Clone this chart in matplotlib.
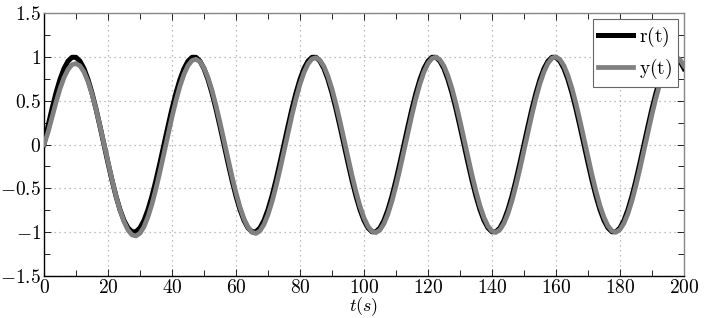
import numpy as np
import matplotlib
matplotlib.use("Agg")
import matplotlib.pyplot as plt
from matplotlib.ticker import MultipleLocator, FuncFormatter

plt.rcParams['mathtext.fontset'] = 'cm'
plt.rcParams['font.family'] = 'serif'
plt.rcParams['font.serif'] = ['DejaVu Serif']

# reference r(t), sampled every 1.25 s
r_vals = [
    0.000, 0.208, 0.407, 0.588, 0.743, 0.866, 0.951, 0.995, 0.995, 0.951,
    0.866, 0.743, 0.588, 0.407, 0.208, 0.000, -0.208, -0.407, -0.588, -0.743,
    -0.866, -0.951, -0.995, -0.995, -0.951, -0.866, -0.743, -0.588, -0.407, -0.208,
    0.000, 0.208, 0.407, 0.588, 0.743, 0.866, 0.951, 0.995, 0.995, 0.951,
    0.866, 0.743, 0.588, 0.407, 0.208, 0.000, -0.208, -0.407, -0.588, -0.743,
    -0.866, -0.951, -0.995, -0.995, -0.951, -0.866, -0.743, -0.588, -0.407, -0.208,
    0.000, 0.208, 0.407, 0.588, 0.743, 0.866, 0.951, 0.995, 0.995, 0.951,
    0.866, 0.743, 0.588, 0.407, 0.208, 0.000, -0.208, -0.407, -0.588, -0.743,
    -0.866, -0.951, -0.995, -0.995, -0.951, -0.866, -0.743, -0.588, -0.407, -0.208,
    0.000, 0.208, 0.407, 0.588, 0.743, 0.866, 0.951, 0.995, 0.995, 0.951,
    0.866, 0.743, 0.588, 0.407, 0.208, 0.000, -0.208, -0.407, -0.588, -0.743,
    -0.866, -0.951, -0.995, -0.995, -0.951, -0.866, -0.743, -0.588, -0.407, -0.208,
    0.000, 0.208, 0.407, 0.588, 0.743, 0.866, 0.951, 0.995, 0.995, 0.951,
    0.866, 0.743, 0.588, 0.407, 0.208, 0.000, -0.208, -0.407, -0.588, -0.743,
    -0.866, -0.951, -0.995, -0.995, -0.951, -0.866, -0.743, -0.588, -0.407, -0.208,
    0.000, 0.208, 0.407, 0.588, 0.743, 0.866, 0.951, 0.995, 0.995, 0.951,
    0.866,
]

# output y(t), same sampling
y_vals = [
    0.000, 0.137, 0.310, 0.480, 0.635, 0.762, 0.856, 0.911, 0.924, 0.898,
    0.828, 0.719, 0.576, 0.404, 0.212, 0.009, -0.198, -0.399, -0.585, -0.748,
    -0.879, -0.975, -1.031, -1.043, -1.012, -0.939, -0.825, -0.679, -0.504, -0.308,
    -0.101, 0.109, 0.313, 0.501, 0.667, 0.801, 0.900, 0.958, 0.973, 0.945,
    0.874, 0.763, 0.619, 0.445, 0.252, 0.047, -0.161, -0.364, -0.550, -0.714,
    -0.847, -0.944, -1.001, -1.014, -0.985, -0.912, -0.800, -0.654, -0.480, -0.285,
    -0.079, 0.131, 0.334, 0.521, 0.687, 0.820, 0.919, 0.976, 0.990, 0.961,
    0.890, 0.778, 0.633, 0.460, 0.266, 0.060, -0.149, -0.351, -0.538, -0.703,
    -0.836, -0.933, -0.990, -1.004, -0.975, -0.903, -0.790, -0.645, -0.471, -0.277,
    -0.071, 0.138, 0.341, 0.529, 0.694, 0.827, 0.925, 0.982, 0.996, 0.967,
    0.895, 0.783, 0.639, 0.465, 0.271, 0.065, -0.144, -0.347, -0.534, -0.699,
    -0.832, -0.930, -0.987, -1.001, -0.971, -0.899, -0.787, -0.642, -0.468, -0.274,
    -0.068, 0.142, 0.345, 0.532, 0.697, 0.830, 0.928, 0.985, 0.999, 0.970,
    0.898, 0.786, 0.641, 0.467, 0.273, 0.067, -0.142, -0.345, -0.532, -0.697,
    -0.830, -0.928, -0.985, -0.999, -0.970, -0.898, -0.786, -0.641, -0.467, -0.273,
    -0.067, 0.142, 0.345, 0.532, 0.697, 0.830, 0.928, 0.985, 0.999, 0.970,
    0.898,
]

t = np.linspace(0, 200, len(r_vals))

fig = plt.figure(figsize=(7.06, 3.18), dpi=100)
ax = fig.add_axes([0.0623, 0.132, 0.9065, 0.827])

ax.plot(t, r_vals, color='black', lw=3.6, label=r'$\mathrm{r(t)}$', zorder=3)
ax.plot(t, y_vals, color='#808080', lw=3.4, label=r'$\mathrm{y(t)}$', zorder=4)

ax.set_xlim(0, 200)
ax.set_ylim(-1.5, 1.5)
ax.xaxis.set_major_locator(MultipleLocator(20))
ax.xaxis.set_minor_locator(MultipleLocator(10))
ax.yaxis.set_major_locator(MultipleLocator(0.5))
ax.yaxis.set_minor_locator(MultipleLocator(0.25))

fmt = FuncFormatter(lambda v, p: '$%g$' % v)
ax.xaxis.set_major_formatter(fmt)
ax.yaxis.set_major_formatter(fmt)

ax.tick_params(which='both', direction='in', top=True, right=True, labelsize=14)
ax.tick_params(which='major', length=5, width=0.6, pad=2)
ax.tick_params(which='minor', length=4, width=0.6)

ax.grid(True, which='major', linestyle=(0, (1, 3)), color='#aaaaaa', lw=0.9)

for s in ['top', 'right']:
    ax.spines[s].set_color('#888888')
    ax.spines[s].set_linewidth(1.0)
for s in ['left', 'bottom']:
    ax.spines[s].set_color('black')
    ax.spines[s].set_linewidth(1.0)

ax.set_xlabel('$t(s)$', fontsize=13, labelpad=-1)

leg = ax.legend(loc='upper right', fontsize=14, fancybox=False, framealpha=1,
                edgecolor='#666666', handlelength=1.8, borderaxespad=0.3,
                handletextpad=0.3, borderpad=0.3, labelspacing=0.4)
leg.get_frame().set_linewidth(0.8)
leg.set_zorder(10)

fig.savefig('out.png', dpi=100)
